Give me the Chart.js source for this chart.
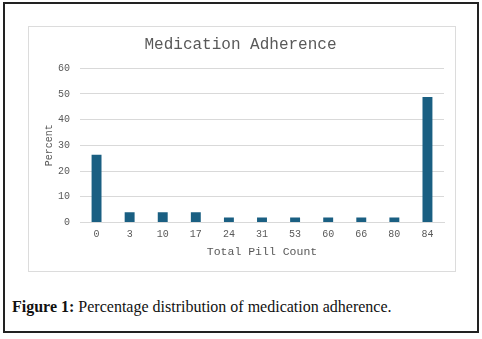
<!DOCTYPE html>
<html>
<head>
<meta charset="utf-8">
<script src="https://cdn.jsdelivr.net/npm/chart.js@4"></script>
<style>
  body { margin: 0; background: #fff; }
  #frame {
    position: absolute; left: 3px; top: 2px;
    width: 472px; height: 327px;
    border: 2px solid #222;
  }
  #box {
    position: absolute; left: 28px; top: 26px;
    width: 426px; height: 244px;
    border: 1px solid #dcdcdc;
  }
  #caption {
    position: absolute; left: 12px; top: 298px;
    font-family: "Liberation Serif", serif; font-size: 16px; color: #111;
  }
</style>
</head>
<body>
<div id="frame"></div>
<div id="box"><canvas id="chart" width="426" height="244"></canvas></div>
<div id="caption"><b>Figure 1:</b> Percentage distribution of medication adherence.</div>
<script>
const pillCounts = ["0", "3", "10", "17", "24", "31", "53", "60", "66", "80", "84"];
const percents = [26.3, 4, 4, 4, 1.9, 1.9, 1.9, 1.9, 1.9, 1.9, 48.8];
const yTicks = [0, 10, 20, 30, 40, 50, 60];

const mono = "'Liberation Mono', 'Courier New', monospace";
const gray = "#595959";

const ctx = document.getElementById("chart").getContext("2d");
new Chart(ctx, {
    type: "bar",
    data: {
        labels: pillCounts,
        datasets: [{
            label: "Percent",
            data: percents,
            backgroundColor: "#1a5f82",
            barPercentage: 0.6,
            categoryPercentage: 0.5
        }]
    },
    options: {
        responsive: false,
        animation: false,
        layout: { padding: { left: 8, right: 11, top: 6, bottom: 9 } },
        plugins: {
            legend: { display: false },
            tooltip: { enabled: false },
            title: {
                display: true,
                text: "Medication Adherence",
                color: gray,
                font: { family: mono, size: 16, weight: "normal" },
                padding: { top: 2, bottom: 14 }
            }
        },
        scales: {
            x: {
                grid: { display: false, drawTicks: false },
                border: { color: "#d9d9d9" },
                ticks: { color: gray, font: { family: mono, size: 10 }, padding: 6 },
                title: {
                    display: true, text: "Total Pill Count", color: gray,
                    font: { family: mono, size: 11.5, lineHeight: 1 }, padding: { top: 0 }
                }
            },
            y: {
                min: 0, max: 60,
                afterBuildTicks: axis => { axis.ticks = yTicks.map(v => ({ value: v })); },
                grid: { color: "#d9d9d9", drawTicks: false },
                border: { display: false },
                ticks: { color: gray, font: { family: mono, size: 10 }, padding: 10 },
                title: {
                    display: true, text: "Percent", color: gray,
                    font: { family: mono, size: 10 }, padding: { top: 6, bottom: -7 }
                }
            }
        }
    }
});
</script>
</body>
</html>
